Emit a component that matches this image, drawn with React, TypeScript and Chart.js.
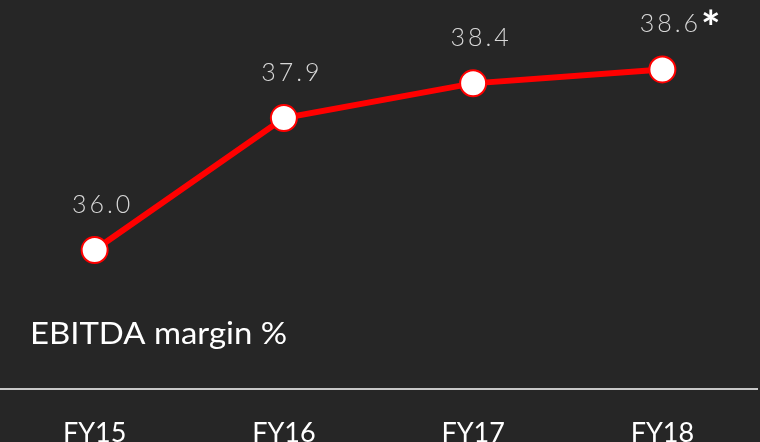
import React, { useEffect, useRef } from "react";
import { Chart, registerables } from "chart.js";

Chart.register(...registerables);

const categories = ["FY15", "FY16", "FY17", "FY18"];
const ebitdaMargin = [36.0, 37.9, 38.4, 38.6];
const valueLabels = ["36.0", "37.9", "38.4", "38.6"];
const footnoteMarks = ["", "", "", "*"];
const seriesTitle = "EBITDA margin %";

const BG = "#262626";

const labelPlugin = {
  id: "customLabels",
  afterDatasetsDraw(chart: any) {
    const ctx = chart.ctx;
    const meta = chart.getDatasetMeta(0);
    ctx.save();
    meta.data.forEach((pt: any, i: number) => {
      const x = pt.x + 8;
      const y = pt.y - 37;
      ctx.font = "300 25px Lato";
      (ctx as any).letterSpacing = "3px";
      ctx.fillStyle = "#d8d8d8";
      ctx.textAlign = "center";
      ctx.textBaseline = "alphabetic";
      ctx.fillText(valueLabels[i], x, y);
      const w = ctx.measureText(valueLabels[i]).width;
      (ctx as any).letterSpacing = "0px";
      if (footnoteMarks[i]) {
        ctx.font = "bold 46px Lato";
        ctx.fillStyle = "#ffffff";
        ctx.textAlign = "left";
        ctx.fillText(footnoteMarks[i], x + w / 2, y + 12);
      }
    });
    ctx.restore();
  },
  afterDraw(chart: any) {
    const ctx = chart.ctx;
    ctx.save();
    ctx.font = "30px Lato";
    ctx.fillStyle = "#ffffff";
    ctx.textAlign = "left";
    ctx.textBaseline = "alphabetic";
    const w = ctx.measureText(seriesTitle).width;
    ctx.translate(30, 344);
    ctx.scale(257 / w, 1);
    ctx.fillText(seriesTitle, 0, 0);
    ctx.restore();
  },
};

export default function App() {
  const ref = useRef<HTMLCanvasElement>(null);
  useEffect(() => {
    if (!ref.current) return;
    const chart = new Chart(ref.current, {
      type: "line",
      data: {
        labels: categories,
        datasets: [
          {
            data: ebitdaMargin,
            borderColor: "#ff0000",
            borderWidth: 6,
            pointRadius: 13,
            pointBorderWidth: 2,
            pointBackgroundColor: "#ffffff",
            pointBorderColor: "#ff0000",
            tension: 0,
            clip: false as any,
          },
        ],
      },
      options: {
        responsive: false,
        animation: false,
        layout: {
          autoPadding: false,
          padding: { left: 0, right: 3, top: 0, bottom: -35 },
        },
        plugins: { legend: { display: false }, tooltip: { enabled: false } },
        scales: {
          x: {
            offset: true,
            grid: { display: false, drawTicks: false },
            border: { display: true, color: "#c8c8c8", width: 2 },
            ticks: {
              color: "#ffffff",
              font: { family: "Lato", size: 27, lineHeight: 88 / 27 },
              padding: 0,
            },
          },
          y: {
            display: false,
            min: 34,
            max: 39.6,
          },
        },
      },
      plugins: [labelPlugin],
    });
    return () => chart.destroy();
  }, []);
  return (
    <div
      style={{
        position: "fixed",
        left: 0,
        top: 0,
        width: 760,
        height: 442,
        background: BG,
      }}
    >
      <canvas ref={ref} width={760} height={442} />
    </div>
  );
}
